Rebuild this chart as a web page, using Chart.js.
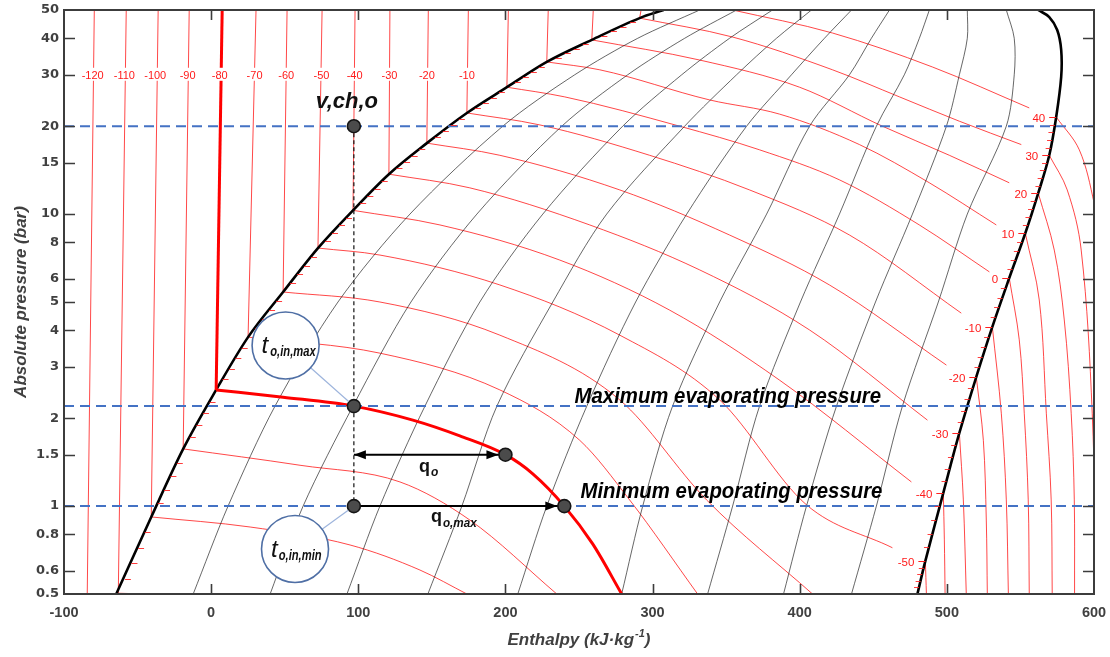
<!DOCTYPE html>
<html>
<head>
<meta charset="utf-8">
<script src="https://cdn.jsdelivr.net/npm/chart.js@4.4.1/dist/chart.umd.min.js"></script>
<style>
  html, body { margin: 0; padding: 0; background: #ffffff; }
  canvas { display: block; }
</style>
</head>
<body>
<canvas id="ph" width="1110" height="657"></canvas>
<script>
// ---- axes ----
const hTicks = [-100, 0, 100, 200, 300, 400, 500, 600];
const pTicks = [0.5, 0.6, 0.8, 1, 1.5, 2, 3, 4, 5, 6, 8, 10, 15, 20, 30, 40, 50];

// ---- isotherms in the sub-cooled liquid region (top at 50 bar, base on the bubble line) ----
const liquidTemps = [-120, -110, -100, -90, -80, -70, -60, -50, -40, -30, -20, -10, 0, 10, 20, 30];
const liquidTopH  = [-79.4, -57.7, -36.0, -14.9, 7.5, 30.5, 51.6, 75.4, 97.8, 121.5, 147.6, 174.8, 202.0, 229.1, 259.7, 292.2];
const liquidBaseH = [-84.2, -63.1, -40.7, -19.0, 3.4, 25.1, 48.9, 72.6, 96.4, 120.8, 146.6, 173.8, 201.0, 228.1, 258.7, 291.2];
const liquidBaseP = [0.5, 0.5, 0.918, 1.57, 2.5, 3.79, 5.41, 7.65, 10.3, 13.7, 17.5, 22.2, 27.2, 33.2, 39.5, 46.9];
// labelled liquid isotherms, text placed on the 30 bar row
const liquidLabelTemps = [-120, -110, -100, -90, -80, -70, -60, -50, -40, -30, -20, -10];
const liquidLabelH = [-80.5, -59, -38, -16, 5.8, 29.5, 51, 75, 97.5, 121.2, 146.6, 173.8];
const labelRowP = 30;

// ---- saturation dome [h kJ/kg, p bar] ----
const satLiquid = [[-64.5,0.5],[-40.7,0.918],[-19.0,1.57],[3.4,2.5],[25.1,3.79],[48.9,5.41],[72.6,7.65],[96.4,10.3],
  [120.8,13.7],[146.6,17.5],[173.8,22.2],[201.0,27.2],[228.1,33.2],[258.7,39.5],[291.2,46.9],[307.5,50]];
const satVapor = [[480.0,0.5],[485.4,0.649],[497.6,1.11],[508.5,1.78],[520.0,2.77],[530.9,4.11],[542.4,6.04],
  [553.3,8.6],[562.1,11.8],[569.6,15.9],[574.3,21.5],[577.7,29.5],[577.7,36.5],[575.0,42.7],[569.6,47.3],[562.1,50]];

// ---- vapour-quality lines: h at each tabulated pressure ----
const qualityPressures = [0.5, 1, 2.2, 5, 10, 20, 30, 40, 50];
const quality1 = [-12.2, 11.5, 43.4, 86.2, 135.1, 198.2, 247.1, 289.9, 332.0];
const quality2 = [40.1, 62.5, 96.4, 135.8, 180.6, 238.3, 283.1, 321.8, 357.1];
const quality3 = [92.3, 114.7, 145.3, 182.6, 225.4, 279.7, 319.8, 352.3, 381.5];
const quality4 = [147.3, 170.4, 194.2, 232.2, 268.8, 321.8, 357.1, 384.2, 408.0];
const quality5 = [208.4, 228.1, 255.3, 288.5, 323.2, 363.9, 394.4, 416.8, 435.2];
const quality6 = [279.0, 293.3, 313.6, 345.6, 377.5, 406.7, 433.8, 448.7, 461.0];
const quality7 = [337.4, 354.4, 372.7, 400.5, 427.0, 452.1, 471.1, 481.3, 488.1];
const quality8 = [389.0, 404.6, 425.0, 451.5, 476.6, 499.7, 508.5, 513.9, 513.9];
const quality9 = [435.2, 452.1, 469.8, 494.2, 513.9, 540.4, 545.8, 545.8, 540.4];

// ---- isotherms inside the two-phase region ----
const dome40  = [[354.4,50],[422.3,41.7],[490.2,31.9],[556.0,23.1]];
const dome30  = [[291.2,46.9],[354.4,40.4],[422.3,31.2],[467.8,25.2],[508.5,20.8],[550.6,17.3]];
const dome20  = [[258.7,39.5],[332.0,33.7],[399.9,27.2],[456.2,20.0],[501.7,15.9],[542.4,12.8]];
const dome10  = [[228.1,33.2],[264.1,31.2],[338.8,24.6],[386.3,22.0],[440.6,17.3],[488.1,12.8],[533.6,9.18]];
const dome0   = [[201.0,27.2],[240.3,25.2],[318.4,20.0],[372.7,16.6],[427.0,13.1],[481.3,9.18],[528.9,6.34]];
const domeM10 = [[173.8,22.2],[223.4,20.2],[298.0,15.9],[365.9,12.1],[433.8,8.48],[509.8,4.58]];
const domeM20 = [[146.6,17.5],[196.2,15.9],[277.7,12.1],[352.3,8.48],[420.2,5.72],[499.7,3.04]];
const domeM30 = [[120.8,13.7],[175.8,12.3],[257.3,9.18],[332.0,6.44],[406.7,4.01],[486.8,1.97]];
const domeM40 = [[96.4,10.3],[155.5,9.18],[236.9,6.96],[311.6,4.69],[386.3,2.70],[475.9,1.21]];
const domeM50 = [[72.6,7.65],[114.7,7.24],[196.2,5.72],[277.7,3.85],[345.6,2.31],[404.6,1.01],[463.0,0.72]];
const domeM60 = [[48.9,5.41],[114.7,5.0],[196.2,3.85],[277.7,2.31],[336.7,1.05],[408.7,0.5]];
const domeM70 = [[25.1,3.79],[114.7,3.34],[196.2,2.5],[250.5,1.68],[284.4,1.05],[330.6,0.5]];
const domeM90 = [[-19.0,1.57],[60.4,1.38],[128.3,1.21],[175.8,0.896],[234.9,0.5]];
const domeM100 = [[-40.7,0.918],[26.5,0.848],[94.4,0.736],[141.9,0.604],[173.8,0.5]];
const domeM110 = [[-63.1,0.503],[-43.5,0.5]];
// the highlighted -80 °C isotherm (evaporator line)
const evapIsotherm = [[3.4,2.5],[48.9,2.36],[97,2.2],[137.1,1.97],[169,1.74],[200,1.5],[218.6,1.29],[240,1.0],[259.3,0.742],[279,0.5]];

// ---- isotherms in the superheated vapour region ----
const vapM50 = [[485.4,0.649],[486.1,0.5]];
const vapM40 = [[497.6,1.11],[498.3,0.766],[498.8,0.5]];
const vapM30 = [[508.5,1.78],[511.2,1.05],[513.2,0.5]];
const vapM20 = [[520.0,2.77],[524.8,1.68],[526.8,0.896],[527.5,0.5]];
const vapM10 = [[530.9,4.11],[537.0,2.08],[540.4,1.05],[541.8,0.5]];
const vap0   = [[542.4,6.04],[549.2,3.71],[552.6,2.08],[555.3,1.05],[556.0,0.5]];
const vap10  = [[553.3,8.6],[562.8,5.08],[567.6,2.08],[570.9,1.05],[571.6,0.5]];
const vap20  = [[562.1,11.8],[573.0,7.53],[579.8,4.34],[584.5,2.08],[586.6,1.05],[586.8,0.5]];
const vap30  = [[569.6,15.9],[581.8,12.1],[591.3,7.53],[598.8,2.08],[601.5,0.5]];
const vap40  = [[574.3,21.5],[590.0,16.6],[600.1,10.9],[606.9,6.96]];
// dew-point labels on the saturated vapour line
const dewTemps = [40, 30, 20, 10, 0, -10, -20, -30, -40, -50];
const dewH = [574.3, 569.6, 562.1, 553.3, 542.4, 530.9, 520.0, 508.5, 497.6, 485.4];
const dewP = [21.5, 15.9, 11.8, 8.6, 6.04, 4.11, 2.77, 1.78, 1.11, 0.649];

// ---- evaporator operating points ----
const hInlet = 97;
const statePoints = [[97,20],[97,2.2],[200,1.5],[240,1],[97,1]];
const pressureLevels = [20, 2.2, 1];
const qoArrow = [[97,1.5],[200,1.5]];
const qoMaxArrow = [[97,1],[240,1]];
const calloutMax = [50.6, 3.55];
const calloutMin = [57.0, 0.713];

// ---------------------------------------------------------------
const FONT = '"Liberation Sans", Arial, Helvetica, sans-serif';
const RED_THIN = 'rgba(255,0,0,0.72)';
const toXY = pts => pts.map(([x, y]) => ({ x, y }));
const ds = [];

function line(pts, color, width, order, extra = {}) {
  ds.push(Object.assign({
    data: toXY(pts), showLine: true, pointRadius: 0, pointHoverRadius: 0,
    borderColor: color, backgroundColor: color, borderWidth: width,
    cubicInterpolationMode: 'monotone', fill: false, order
  }, extra));
}
const smooth = { cubicInterpolationMode: 'default', tension: 0.35 };
const straight = { cubicInterpolationMode: 'default', tension: 0 };

// liquid isotherms (the -80 °C one is drawn heavy)
liquidTemps.forEach((t, i) => {
  const pts = [[liquidTopH[i], 50], [liquidBaseH[i], liquidBaseP[i]]];
  if (t === -80) line(pts, '#ff0000', 3, 20, straight);
  else line(pts, RED_THIN, 1, 60, straight);
});
// two-phase isotherms
[dome40, dome30, dome20, dome10, dome0, domeM10, domeM20, domeM30, domeM40,
 domeM50, domeM60, domeM70, domeM90, domeM100, domeM110].forEach(d => line(d, RED_THIN, 1, 60));
// superheated isotherms
[vapM50, vapM40, vapM30, vapM20, vapM10, vap0, vap10, vap20, vap30, vap40].forEach(d => line(d, RED_THIN, 1, 60, smooth));
// quality lines
[quality1, quality2, quality3, quality4, quality5, quality6, quality7, quality8, quality9].forEach(q =>
  line(q.map((h, i) => [h, qualityPressures[i]]), 'rgba(30,30,30,0.85)', 0.8, 55, { cubicInterpolationMode: 'default', tension: 0.3 }));
// saturation dome
line(satLiquid, '#000000', 2.6, 40);
line(satVapor, '#000000', 2.6, 40, smooth);
// highlighted evaporator isotherm
line(evapIsotherm, '#ff0000', 3, 20);
// pressure levels
pressureLevels.forEach(p => line([[-100, p], [600, p]], '#4472c4', 2, 10, Object.assign({ borderDash: [10, 6] }, straight)));
// constant-enthalpy drop
line([[hInlet, 20], [hInlet, 1]], '#111111', 1.2, 9, Object.assign({ borderDash: [4, 3] }, straight));
// heat arrows
line(qoArrow, '#000000', 2, 5, Object.assign({ arrowHeads: { start: 0, end: 7 } }, straight));
line(qoMaxArrow, '#000000', 2, 5, Object.assign({ arrowHeads: { end: 7 } }, straight));
// state points
ds.push({
  data: toXY(statePoints), showLine: false, pointRadius: 6.5, pointHoverRadius: 6.5,
  backgroundColor: '#4b4b4b', borderColor: '#151515', borderWidth: 1.6, order: 0
});

function drawText(ctx, s, x, y, font, color, align = 'left', sx = 1, baseline = 'alphabetic') {
  ctx.save();
  ctx.font = font;
  ctx.fillStyle = color;
  ctx.textAlign = align;
  ctx.textBaseline = baseline;
  ctx.translate(x, y);
  ctx.scale(sx, 1);
  ctx.fillText(s, 0, 0);
  const w = ctx.measureText(s).width * sx;
  ctx.restore();
  return w;
}

function arrowHead(ctx, x, y, dir) {
  const L = 12, W = 4.5;
  ctx.beginPath();
  ctx.moveTo(x, y);
  ctx.lineTo(x - dir * L, y - W);
  ctx.lineTo(x - dir * L, y + W);
  ctx.closePath();
  ctx.fill();
}

// short temperature marks every 2 K between labelled points along a saturation line
function minorMarks(ctx, pts, dir, len) {
  ctx.beginPath();
  for (let i = 0; i < pts.length - 1; i++) {
    const [x0, y0] = pts[i], [x1, y1] = pts[i + 1];
    for (let k = 1; k < 5; k++) {
      const x = x0 + (x1 - x0) * k / 5, y = Math.round(y0 + (y1 - y0) * k / 5) + 0.5;
      ctx.moveTo(x, y); ctx.lineTo(x + dir * len, y);
    }
  }
  ctx.stroke();
}

const decor = {
  id: 'decor',
  afterDatasetDraw(chart, args) {
    const d = chart.data.datasets[args.index];
    if (!d.arrowHeads) return;
    const xs = chart.scales.x, ys = chart.scales.y;
    const a = d.data[0], b = d.data[d.data.length - 1];
    const y = ys.getPixelForValue(a.y);
    const ctx = chart.ctx;
    ctx.save();
    ctx.fillStyle = '#000';
    if (d.arrowHeads.start !== undefined) arrowHead(ctx, xs.getPixelForValue(a.x) + d.arrowHeads.start, y, -1);
    if (d.arrowHeads.end !== undefined) arrowHead(ctx, xs.getPixelForValue(b.x) - d.arrowHeads.end, y, 1);
    ctx.restore();
  },
  afterDatasetsDraw(chart) {
    const ctx = chart.ctx, xs = chart.scales.x, ys = chart.scales.y;
    const X = v => xs.getPixelForValue(v), Y = v => ys.getPixelForValue(v);
    ctx.save();

    // 2 K marks on both saturation lines
    ctx.strokeStyle = 'rgba(255,40,40,0.9)';
    ctx.lineWidth = 1;
    const bubblePx = liquidBaseH.map((h, i) => [X(h), Y(liquidBaseP[i])]).slice(1);
    minorMarks(ctx, bubblePx, 1, 6);
    const dewPx = dewH.map((h, i) => [X(h), Y(dewP[i])]);
    dewPx.push([X(satVapor[0][0]), Y(satVapor[0][1])]);
    minorMarks(ctx, dewPx, -1, 5);

    // liquid isotherm labels with a white backing
    ctx.font = '11px ' + FONT;
    liquidLabelTemps.forEach((t, i) => {
      const s = String(t);
      const w = ctx.measureText(s).width;
      const x = X(liquidLabelH[i]), y = Y(labelRowP);
      ctx.fillStyle = '#ffffff';
      ctx.fillRect(x - w / 2 - 2, y - 7, w + 4, 13);
      drawText(ctx, s, x, y + 4, '11px ' + FONT, '#ff1a1a', 'center');
    });

    // dew-point marks and labels
    dewTemps.forEach((t, i) => {
      const x = X(dewH[i]), y = Math.round(Y(dewP[i])) + 0.5;
      ctx.strokeStyle = '#ff2020';
      ctx.lineWidth = 1;
      ctx.beginPath(); ctx.moveTo(x - 7, y); ctx.lineTo(x, y); ctx.stroke();
      drawText(ctx, String(t), x - 11, y + 4, '11.5px ' + FONT, '#ff1a1a', 'right');
    });

    // callout circles with leader lines
    const callout = (c, target, main, sub, subDx) => {
      const cx = X(c[0]), cy = Y(c[1]), r = 33.5;
      const tx = X(target[0]), ty = Y(target[1]);
      const ang = Math.atan2(ty - cy, tx - cx);
      const dist = Math.hypot(tx - cx, ty - cy);
      ctx.strokeStyle = '#9db4dc';
      ctx.lineWidth = 1.2;
      ctx.beginPath();
      ctx.moveTo(cx + r * Math.cos(ang), cy + r * Math.sin(ang));
      ctx.lineTo(cx + (dist - 7) * Math.cos(ang), cy + (dist - 7) * Math.sin(ang));
      ctx.stroke();
      ctx.beginPath();
      ctx.arc(cx, cy, r, 0, Math.PI * 2);
      ctx.fillStyle = '#ffffff';
      ctx.fill();
      ctx.strokeStyle = '#4f6fa5';
      ctx.lineWidth = 1.6;
      ctx.stroke();
      const w = drawText(ctx, main, cx - 24, cy + 8, 'italic 24px ' + FONT, '#111', 'left');
      drawText(ctx, sub, cx - 24 + w + subDx, cy + 11, 'italic bold 14px ' + FONT, '#111', 'left', 0.8);
    };
    callout(calloutMax, statePoints[1], 't', 'o,in,max', 2);
    callout(calloutMin, statePoints[4], 't', 'o,in,min', 1);

    // point and level annotations
    drawText(ctx, 'v,ch,o', X(hInlet) - 7, Y(20) - 18, 'italic bold 22px ' + FONT, '#111', 'center');
    drawText(ctx, 'Maximum evaporating pressure', X(247), Y(2.2) - 3, 'italic bold 22px ' + FONT, '#000', 'left', 0.925);
    drawText(ctx, 'Minimum evaporating pressure', X(251), Y(1) - 8, 'italic bold 22px ' + FONT, '#000', 'left', 0.925);
    let w = drawText(ctx, 'q', X(141.2), Y(1.5) + 17, 'bold 18px ' + FONT, '#111', 'left');
    drawText(ctx, 'o', X(141.2) + w + 1, Y(1.5) + 21, 'italic bold 12px ' + FONT, '#111', 'left');
    w = drawText(ctx, 'q', X(149.4), Y(1) + 16, 'bold 18px ' + FONT, '#111', 'left');
    drawText(ctx, 'o,max', X(149.4) + w + 1, Y(1) + 21, 'italic bold 13px ' + FONT, '#111', 'left', 0.9);
    ctx.restore();
  },
  afterDraw(chart) {
    const ctx = chart.ctx, a = chart.chartArea, xs = chart.scales.x, ys = chart.scales.y;
    ctx.save();
    ctx.strokeStyle = '#3c3c3c';
    ctx.lineWidth = 2;
    ctx.strokeRect(a.left, a.top, a.right - a.left, a.bottom - a.top);
    ctx.lineWidth = 1.6;
    ctx.beginPath();
    hTicks.forEach(v => {
      if (v === hTicks[0] || v === hTicks[hTicks.length - 1]) return;
      const x = Math.round(xs.getPixelForValue(v)) + 0.5;
      ctx.moveTo(x, a.bottom); ctx.lineTo(x, a.bottom - 10);
      ctx.moveTo(x, a.top); ctx.lineTo(x, a.top + 10);
    });
    pTicks.forEach(v => {
      if (v === pTicks[0] || v === pTicks[pTicks.length - 1]) return;
      const y = Math.round(ys.getPixelForValue(v)) + 0.5;
      ctx.moveTo(a.left, y); ctx.lineTo(a.left + 11, y);
      ctx.moveTo(a.right, y); ctx.lineTo(a.right - 11, y);
    });
    ctx.stroke();

    // tick labels
    hTicks.forEach(v => drawText(ctx, String(v), xs.getPixelForValue(v), a.bottom + 19,
      'bold 14.5px ' + FONT, '#404040', 'center', 1, 'middle'));
    pTicks.forEach(v => drawText(ctx, String(v), a.left - 5, ys.getPixelForValue(v),
      'bold 13px "DejaVu Sans", sans-serif', '#404040', 'right', 1, 'middle'));

    // axis titles
    const cx = (a.left + a.right) / 2;
    const tFont = 'italic bold 17px ' + FONT;
    const supFont = 'italic bold 11px ' + FONT;
    const main = 'Enthalpy (kJ\u00b7kg';
    ctx.font = supFont;
    const supW = ctx.measureText('-1').width;
    ctx.font = tFont;
    const total = ctx.measureText(main).width + supW + 1 + ctx.measureText(')').width;
    let x0 = cx - total / 2;
    x0 += drawText(ctx, main, x0, 645, tFont, '#404040');
    drawText(ctx, '-1', x0 + 1, 637, supFont, '#404040');
    drawText(ctx, ')', x0 + supW + 1, 645, tFont, '#404040');

    ctx.translate(26, (a.top + a.bottom) / 2);
    ctx.rotate(-Math.PI / 2);
    drawText(ctx, 'Absolute pressure (bar)', 0, 0, tFont, '#404040', 'center');
    ctx.restore();
  }
};

new Chart(document.getElementById('ph'), {
  type: 'scatter',
  data: { datasets: ds },
  plugins: [decor],
  options: {
    responsive: false,
    animation: false,
    devicePixelRatio: 1,
    layout: { padding: { top: 10, right: 16, left: 0, bottom: 0 } },
    plugins: { legend: { display: false }, tooltip: { enabled: false } },
    events: [],
    scales: {
      x: {
        type: 'linear', min: -100, max: 600,
        afterBuildTicks: s => { s.ticks = hTicks.map(v => ({ value: v })); },
        afterFit: s => { s.height = 63; },
        grid: { display: false, drawTicks: false },
        border: { display: false },
        ticks: { display: false }
      },
      y: {
        type: 'logarithmic', min: 0.5, max: 50,
        afterBuildTicks: s => { s.ticks = pTicks.map(v => ({ value: v })); },
        afterFit: s => { s.width = 64; },
        grid: { display: false, drawTicks: false },
        border: { display: false },
        ticks: { display: false }
      }
    }
  }
});
</script>
</body>
</html>
